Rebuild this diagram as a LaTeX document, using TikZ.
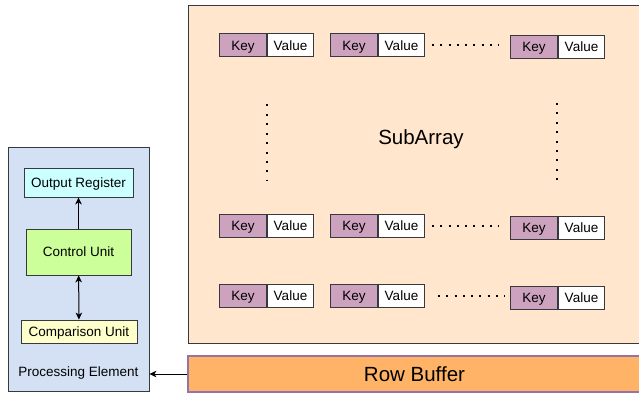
\documentclass[tikz,border=0pt]{standalone}
\usepackage{fontspec}
\setmainfont{Liberation Sans}
\usetikzlibrary{positioning,arrows.meta}
\definecolor{arrayfill}{HTML}{FFE6CC}
\definecolor{bufferfill}{HTML}{FFB366}
\definecolor{bufferline}{HTML}{9673A6}
\definecolor{pefill}{HTML}{D4E1F5}
\definecolor{regfill}{HTML}{CCFFFF}
\definecolor{ctrlfill}{HTML}{CCFF99}
\definecolor{cmpfill}{HTML}{FFFFCC}
\definecolor{keyfill}{HTML}{CDA2BE}
\definecolor{edge}{HTML}{36393D}
\tikzset{
	>={Stealth[length=7pt,width=6.5pt,inset=2pt]},
	keycell/.style={
		rectangle,
		draw=edge, line width=1pt,
		fill=keyfill,
		minimum width=47pt,
		minimum height=23pt,
		inner sep=0pt,
		text height=9.7pt, text depth=0pt,
		anchor=east,
		font={\fontsize{13.5pt}{16pt}\selectfont}
	},
	valcell/.style={
		keycell,
		fill=white,
		minimum width=46pt,
		anchor=west
	},
	unit/.style={
		rectangle,
		draw=edge, line width=0.8pt,
		inner sep=0pt,
		text height=9.7pt, text depth=0pt,
		font={\fontsize{13.5pt}{16pt}\selectfont}
	},
	bigtext/.style={text height=14.7pt, text depth=0pt, font={\fontsize{20.5pt}{24pt}\selectfont}},
	dotrow/.style={draw, line width=2pt, dash pattern=on 2pt off 6.25pt},
	dotcol/.style={draw, line width=2pt, dash pattern=on 2pt off 7.4pt},
	link/.style={draw, thick},
}
\begin{document}
\begin{tikzpicture}[x=1pt,y=-1pt]
	\useasboundingbox (0,0) rectangle (639,393);
	% subarray and row buffer
	\node[unit, fill=arrayfill, minimum width=453pt, minimum height=338pt] (sa) at (414.5,174) {};
	\node[bigtext] (satext) at (421,137) {SubArray};
	\node[unit, bigtext, fill=bufferfill, draw=bufferline, line width=1.2pt,
		minimum width=453pt, minimum height=36pt] (rb) at (414.5,374) {Row Buffer};
	% processing element
	\node[unit, fill=pefill, minimum width=141pt, minimum height=244pt] (pe) at (78.5,269) {};
	\node[unit, draw=none] (petext) at (78.5,372) {Processing Element};
	\node[unit, fill=regfill, minimum width=109pt, minimum height=29pt] (or) at (78.5,182.5) {Output Register};
	\node[unit, fill=ctrlfill, minimum width=105pt, minimum height=46pt] (cu) at (78.5,252) {Control Unit};
	\node[unit, fill=cmpfill, minimum width=116pt, minimum height=23pt] (cmp) at (79,331.5) {Comparison Unit};
	\draw[link, ->, line width=1.4pt] (cu) -- (or);
	\draw[link, <->, line width=1pt] (cu) -- (cmp);
	\draw[link, ->, line width=1pt] (rb.west) -- (rb.west -| pe.east);
	% key/value cells
	\foreach \r/\y in {1/45.5,2/226,3/296} {
		\foreach \c/\x/\dy in {1/267/0,2/378/0,3/558/1.5} {
			\node[keycell] (k\r\c) at (\x,\y+\dy) {Key};
			\node[valcell] (v\r\c) at (\x,\y+\dy) {Value};
		}
	}
	\foreach \r in {1,2}
		\draw[dotrow, shorten <=7pt, shorten >=11pt] (v\r2.east) -- (v\r2.east -| k\r3.west);
	\draw[dotrow, shorten <=13pt, shorten >=5pt] (v32.east) -- (v32.east -| k33.west);
	\draw[dotcol, shorten <=47pt, shorten >=34pt] (k11.south east) -- (k21.north east);
	\draw[dotcol, shorten <=44pt, shorten >=36pt] ([xshift=-1.5pt]k13.south east) -- ([xshift=-1.5pt]k23.north east);
\end{tikzpicture}
\end{document}
